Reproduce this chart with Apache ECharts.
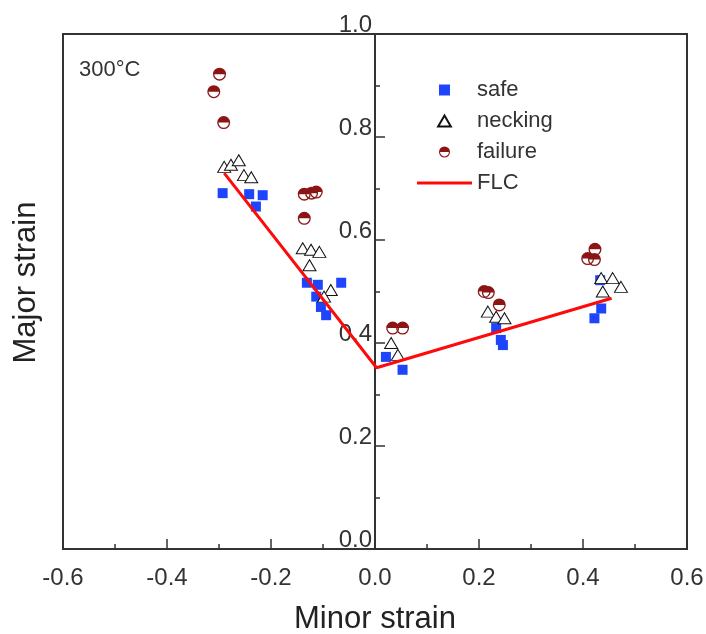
<!DOCTYPE html>
<html>
<head>
<meta charset="utf-8">
<script src="https://cdn.jsdelivr.net/npm/echarts@6/dist/echarts.min.js"></script>
<style>
  html, body { margin: 0; padding: 0; background: #ffffff; }
  #chart { width: 706px; height: 634px; }
</style>
</head>
<body>
<div id="chart"></div>
<script>
// ---- data ----
var safeX = [-0.293, -0.242, -0.216, -0.229, -0.131, -0.110, -0.065, -0.113, -0.104, -0.094, 0.021, 0.053, 0.233, 0.242, 0.246, 0.433, 0.435, 0.422];
var safeY = [0.691, 0.689, 0.687, 0.665, 0.517, 0.513, 0.517, 0.490, 0.470, 0.454, 0.373, 0.348, 0.429, 0.406, 0.396, 0.522, 0.467, 0.448];

var neckingX = [-0.290, -0.277, -0.262, -0.252, -0.238, -0.139, -0.123, -0.107, -0.126, -0.085, -0.098, 0.031, 0.044, 0.217, 0.233, 0.249, 0.435, 0.457, 0.473, 0.438];
var neckingY = [0.742, 0.746, 0.755, 0.726, 0.722, 0.584, 0.581, 0.577, 0.551, 0.503, 0.490, 0.400, 0.377, 0.461, 0.451, 0.448, 0.526, 0.526, 0.509, 0.500];

var failureX = [-0.299, -0.310, -0.291, -0.136, -0.122, -0.113, -0.136, 0.034, 0.053, 0.210, 0.218, 0.239, 0.409, 0.422, 0.423];
var failureY = [0.922, 0.888, 0.828, 0.689, 0.691, 0.693, 0.642, 0.429, 0.429, 0.500, 0.498, 0.474, 0.564, 0.562, 0.582];

var flcX = [-0.290, 0.003, 0.455];
var flcY = [0.730, 0.352, 0.487];

var seriesNames = ['safe', 'necking', 'failure', 'FLC'];
var xTickValues = [-0.6, -0.4, -0.2, 0.0, 0.2, 0.4, 0.6];
var xTickLabels = ['-0.6', '-0.4', '-0.2', '0.0', '0.2', '0.4', '0.6'];
var yTickValues = [0.0, 0.2, 0.4, 0.6, 0.8, 1.0];
var yTickLabels = ['0.0', '0.2', '0.4', '0.6', '0.8', '1.0'];
var annotation = '300°C';

function pairs(xs, ys) { return xs.map(function (x, i) { return [x, ys[i]]; }); }
function lookup(vals, labels, v) {
  for (var i = 0; i < vals.length; i++) { if (Math.abs(vals[i] - v) < 1e-6) return labels[i]; }
  return '';
}

var FONT = 'Liberation Sans, Arial, sans-serif';
var squarePath = 'path://M0,0H10V10H0Z';
var trianglePath = 'path://M0,-10L8.66,5L-8.66,5Z';
var halfCirclePath = 'path://M0,-10A10,10,0,1,1,0,10A10,10,0,1,1,0,-10ZM0,-8A8,8,0,1,0,0,8A8,8,0,1,0,0,-8ZM8,0A8,8,0,0,0,-8,0Z';
var lineIconPath = 'path://M0,0H55V3H0Z';

var GRID_LEFT = 63, GRID_RIGHT = 19;
var GRID_W = 706 - GRID_LEFT - GRID_RIGHT;

var chart = echarts.init(document.getElementById('chart'), null, { renderer: 'canvas' });
chart.setOption({
  animation: false,
  backgroundColor: '#ffffff',
  title: {
    text: annotation, left: 79, top: 59, padding: 0,
    textStyle: { fontFamily: FONT, fontSize: 22, fontWeight: 'normal', color: '#333' }
  },
  legend: {
    orient: 'vertical', left: 417, top: 79, padding: 0,
    itemWidth: 55, itemHeight: 11, itemGap: 9,
    data: [
      { name: seriesNames[0] },
      { name: seriesNames[1] },
      { name: seriesNames[2] },
      { name: seriesNames[3], icon: lineIconPath, itemStyle: { color: '#ff0a0a' } }
    ],
    textStyle: { fontFamily: FONT, fontSize: 22, color: '#333' }
  },
  grid: {
    left: GRID_LEFT, right: GRID_RIGHT, top: 34, bottom: 85,
    outerBoundsMode: 'none', containLabel: false,
    show: true, borderColor: '#333', borderWidth: 2, backgroundColor: 'transparent'
  },
  xAxis: {
    type: 'value', min: -0.6, max: 0.6, interval: 0.2,
    name: 'Minor strain', nameLocation: 'middle', nameGap: 55,
    nameTextStyle: { fontFamily: FONT, fontSize: 31, color: '#222' },
    axisLine: { show: true, onZero: false, lineStyle: { color: '#333', width: 2 } },
    axisTick: { show: true, inside: true, length: 10, lineStyle: { color: '#333', width: 1.5 } },
    minorTick: { show: true, splitNumber: 2, length: 5, lineStyle: { color: '#333', width: 1.5 } },
    splitLine: { show: false },
    axisLabel: {
      fontFamily: FONT, fontSize: 24, color: '#333', margin: 17,
      formatter: function (v) { return lookup(xTickValues, xTickLabels, v); }
    }
  },
  yAxis: {
    type: 'value', min: 0, max: 1, interval: 0.2,
    position: 'left', offset: -GRID_W / 2,
    name: 'Major strain', nameLocation: 'middle', nameGap: 333,
    nameTextStyle: { fontFamily: FONT, fontSize: 31, color: '#222', padding: [0, 0, 0, 18] },
    axisLine: { show: true, onZero: false, lineStyle: { color: '#333', width: 2 } },
    axisTick: { show: true, inside: true, length: 10, lineStyle: { color: '#333', width: 1.5 } },
    minorTick: { show: true, splitNumber: 2, length: 5, lineStyle: { color: '#333', width: 1.5 } },
    splitLine: { show: false },
    axisLabel: {
      fontFamily: FONT, fontSize: 24, color: '#333', margin: 3,
      verticalAlign: 'bottom', lineHeight: 18,
      formatter: function (v) { return lookup(yTickValues, yTickLabels, v); }
    }
  },
  series: [
    {
      name: 'safe', type: 'scatter', data: pairs(safeX, safeY),
      symbol: squarePath, symbolSize: 10,
      itemStyle: { color: '#1f45fc', opacity: 1 }, emphasis: { disabled: true }, z: 2
    },
    {
      name: 'necking', type: 'scatter', data: pairs(neckingX, neckingY),
      symbol: trianglePath, symbolSize: [13, 11],
      itemStyle: { color: '#ffffff', borderColor: '#111', borderWidth: 1, opacity: 1 },
      emphasis: { disabled: true }, z: 3
    },
    {
      name: 'failure', type: 'scatter', data: pairs(failureX, failureY),
      symbol: halfCirclePath, symbolSize: 13,
      itemStyle: { color: '#8b1515', opacity: 1 }, emphasis: { disabled: true }, z: 4
    },
    {
      name: 'FLC', type: 'line', data: pairs(flcX, flcY),
      symbol: 'none', showSymbol: false,
      lineStyle: { color: '#ff0a0a', width: 3 }, itemStyle: { color: '#ff0a0a' },
      emphasis: { disabled: true }, z: 5
    }
  ]
});
</script>
</body>
</html>
